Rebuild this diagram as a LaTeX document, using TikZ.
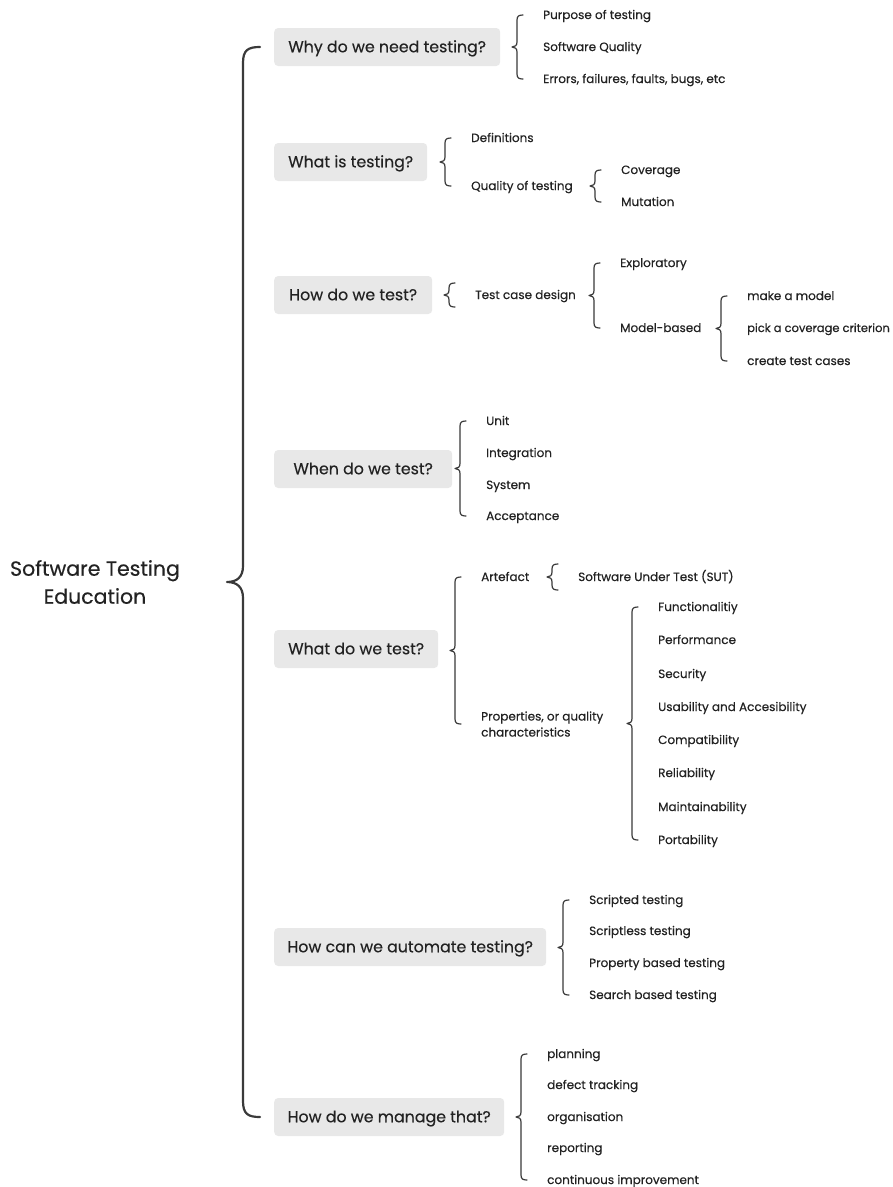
\documentclass[tikz,border=0pt]{standalone}
\usepackage{fontspec}
\setmainfont{Poppins}[FakeBold=0.35]
\usetikzlibrary{calc}
\definecolor{boxgray}{HTML}{E8E8E8}
\definecolor{ink}{HTML}{222222}
\definecolor{bracecol}{HTML}{3A3A3A}

\tikzset{
  topic/.style={fill=boxgray, rounded corners=4pt, minimum height=38pt, inner sep=0pt,
    anchor=west, text=ink, text height=10.5pt, text depth=0pt,
    font=\fontsize{15.8}{19}\selectfont},
  item/.style={anchor=west, inner sep=0pt, text=ink, text height=8.5pt, text depth=0.5pt,
    font=\fontsize{12}{14}\selectfont},
  itemtwo/.style={anchor=west, inner sep=0pt, text=ink, align=left,
    font=\fontsize{12}{16}\selectfont},
  root/.style={align=center, text=ink, inner sep=0pt, font=\fontsize{20.5}{28}\selectfont},
  brace/.style={draw=bracecol, line width=1.2pt, line cap=round, line join=round},
  bigbrace/.style={draw=bracecol, line width=2.2pt, line cap=round, line join=round},
}

% curly brace in front of a column of children: #1 first child, #2 last child,
% #3 how far the hooks reach beyond the first and last child
\newcommand\sbrace[3]{%
  \draw[brace] let \p1=(#1.west), \p2=(#2.west),
      \p3=($(\p1)!.5!(\p2)$), \p4=($(\p1)+(0,-#3)$), \p5=($(\p2)+(0,#3)$) in
    (\x1-20pt,\y4) .. controls (\x1-24pt,\y4) and (\x1-26pt,\y4-1pt) .. (\x1-26pt,\y4-5pt)
    -- (\x1-26pt,\y3+5pt) .. controls (\x1-26pt,\y3+1.5pt) and (\x1-28pt,\y3) .. (\x1-31pt,\y3)
    .. controls (\x1-28pt,\y3) and (\x1-26pt,\y3-1.5pt) .. (\x1-26pt,\y3-5pt)
    -- (\x1-26pt,\y5+5pt) .. controls (\x1-26pt,\y5+1pt) and (\x1-24pt,\y5) .. (\x1-20pt,\y5);
}

\begin{document}
\begin{tikzpicture}[x=1pt,y=-1pt]
\useasboundingbox[fill=white] (0,0) rectangle (893,1187);

% root
\node[root] (root) at (95,582) {Software Testing\\Education};

% main questions
\node[topic, minimum width=226pt] (why)    at (274,47)   {Why do we need testing?};
\node[topic, minimum width=153pt] (what)   at (274,162)  {What is testing?};
\node[topic, minimum width=158pt] (how)    at (274,295)  {How do we test?};
\node[topic, minimum width=178pt] (when)   at (274,469)  {When do we test?};
\node[topic, minimum width=164pt] (whatdo) at (274,649)  {What do we test?};
\node[topic, minimum width=272pt] (auto)   at (274,947)  {How can we automate testing?};
\node[topic, minimum width=230pt] (manage) at (274,1117) {How do we manage that?};

% big brace from the root to all questions
\draw[bigbrace] let \p1=(why.west), \p2=(manage.west), \p3=($(\p1)!.5!(\p2)$) in
  (\x1-14pt,\y1) .. controls (\x1-26pt,\y1) and (\x1-31pt,\y1-3pt) .. (\x1-31pt,\y1-16pt)
  -- (\x1-31pt,\y3+16pt) .. controls (\x1-31pt,\y3+5pt) and (\x1-37pt,\y3) .. (\x1-47pt,\y3)
  .. controls (\x1-37pt,\y3) and (\x1-31pt,\y3-5pt) .. (\x1-31pt,\y3-16pt)
  -- (\x1-31pt,\y2+16pt) .. controls (\x1-31pt,\y2+3pt) and (\x1-26pt,\y2) .. (\x1-14pt,\y2);

% why
\node[item] (w1) at (543,15) {Purpose of testing};
\node[item] (w2) at (543,47) {Software Quality};
\node[item] (w3) at (543,79) {Errors, failures, faults, bugs, etc};
\sbrace{w1}{w3}{0}

% what is testing
\node[item] (d1) at (471,138) {Definitions};
\node[item] (d2) at (471,186) {Quality of testing};
\sbrace{d1}{d2}{0}
\node[item] (q1) at (621,170) {Coverage};
\node[item] (q2) at (621,202) {Mutation};
\sbrace{q1}{q2}{0}

% how do we test
\node[item] (t1) at (475,295) {Test case design};
\sbrace{t1}{t1}{12}
\node[item] (e1) at (620,263) {Exploratory};
\node[item] (e2) at (620,328) {Model-based};
\sbrace{e1}{e2}{0}
\node[item] (m1) at (747,296) {make a model};
\node[item, font=\fontsize{11.5}{14}\selectfont] (m2) at (747,328) {pick a coverage criterion};
\node[item] (m3) at (747,361) {create test cases};
\sbrace{m1}{m3}{0}

% when do we test
\node[item] (l1) at (486,421) {Unit};
\node[item] (l2) at (486,453) {Integration};
\node[item] (l3) at (486,485) {System};
\node[item] (l4) at (486,516) {Acceptance};
\sbrace{l1}{l4}{0}

% what do we test
\node[item] (a1) at (481,577) {Artefact};
\node[itemtwo] (a2) at (481,724) {Properties, or quality\\characteristics};
\sbrace{a1}{a2}{0}
\node[item] (sut) at (578,577) {Software Under Test (SUT)};
\sbrace{sut}{sut}{13}
\node[item] (p1) at (658,607) {Functionalitiy};
\node[item] (p2) at (658,640) {Performance};
\node[item] (p3) at (658,674) {Security};
\node[item] (p4) at (658,707) {Usability and Accesibility};
\node[item] (p5) at (658,740) {Compatibility};
\node[item] (p6) at (658,773) {Reliability};
\node[item] (p7) at (658,807) {Maintainability};
\node[item] (p8) at (658,840) {Portability};
\sbrace{p1}{p8}{0}

% automation
\node[item] (s1) at (589,900) {Scripted testing};
\node[item] (s2) at (589,931) {Scriptless testing};
\node[item] (s3) at (589,963) {Property based testing};
\node[item] (s4) at (589,995) {Search based testing};
\sbrace{s1}{s4}{0}

% management
\node[item] (g1) at (547,1054) {planning};
\node[item] (g2) at (547,1085) {defect tracking};
\node[item] (g3) at (547,1117) {organisation};
\node[item] (g4) at (547,1148) {reporting};
\node[item] (g5) at (547,1180) {continuous improvement};
\sbrace{g1}{g5}{0}
\end{tikzpicture}
\end{document}
